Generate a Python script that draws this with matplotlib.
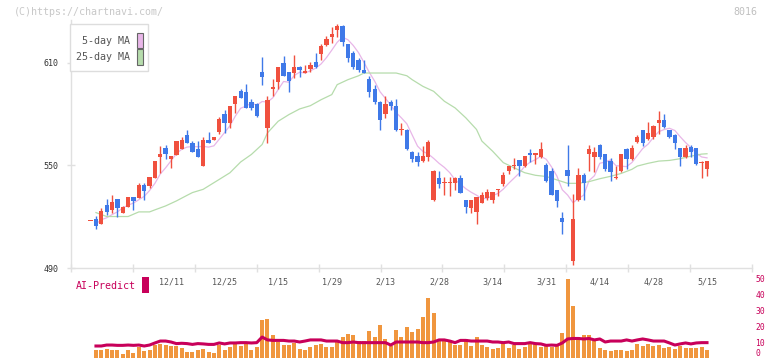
import matplotlib
matplotlib.use('Agg')
import matplotlib.pyplot as plt
import numpy as np
import pandas as pd
from matplotlib.patches import Rectangle
from matplotlib.transforms import blended_transform_factory

# ---------------- data ----------------
opens = [517.2, 518.5, 515.8, 527.1, 523.9, 530.2, 522.4, 525.5, 531.3, 531.0,
         538.3, 538.0, 542.6, 554.7, 559.9, 553.9, 555.8, 559.3, 568.0, 563.2,
         559.7, 549.6, 565.1, 564.8, 569.8, 580.3, 574.9, 585.7, 593.5, 593.1,
         587.3, 586.1, 604.4, 571.7, 594.4, 598.5, 610.0, 604.4, 603.8, 607.7,
         604.2, 606.5, 610.6, 615.4, 620.5, 625.1, 629.4, 631.7, 621.1, 615.8,
         611.6, 605.9, 600.7, 594.8, 587.3, 579.9, 587.3, 585.0, 570.9, 570.9,
         558.1, 555.2, 552.3, 554.9, 529.6, 542.4, 539.9, 539.9, 539.9, 542.4,
         529.6, 524.9, 522.6, 528.0, 530.8, 529.6, 535.4, 539.1, 546.5, 549.4,
         553.0, 549.4, 557.0, 555.8, 554.9, 550.0, 546.5, 535.4, 519.1, 547.1,
         494.3, 529.6, 544.2, 556.6, 554.9, 562.2, 556.4, 552.3, 542.6, 546.5,
         559.3, 553.5, 563.4, 570.4, 565.7, 566.5, 574.5, 576.8, 570.4, 568.0,
         559.9, 554.9, 561.0, 559.9, 551.2, 547.9]
highs = [517.2, 520.5, 525.3, 530.2, 532.5, 530.2, 526.0, 531.5, 531.3, 539.5,
         539.9, 543.0, 552.8, 561.2, 561.7, 555.2, 564.0, 566.7, 570.4, 564.2,
         564.2, 566.7, 569.4, 566.5, 578.3, 582.2, 585.0, 590.8, 594.6, 597.8,
         589.0, 586.5, 613.1, 590.8, 600.5, 607.5, 614.1, 604.6, 614.7, 607.9,
         608.8, 610.6, 615.8, 621.1, 625.7, 631.0, 632.7, 632.0, 621.1, 616.8,
         612.7, 611.8, 602.4, 597.2, 587.5, 590.8, 588.4, 588.8, 574.8, 571.0,
         558.3, 558.1, 561.3, 565.1, 547.1, 546.5, 543.0, 543.0, 543.0, 544.2,
         529.6, 529.8, 531.5, 534.3, 536.0, 534.5, 536.0, 546.3, 549.6, 554.1,
         553.2, 555.4, 559.3, 557.5, 563.4, 551.2, 548.5, 535.5, 522.8, 562.2,
         533.1, 548.3, 545.3, 562.2, 561.0, 562.4, 556.6, 554.1, 549.6, 556.6,
         560.3, 562.2, 568.0, 570.6, 575.2, 573.9, 582.0, 580.3, 570.6, 568.2,
         560.0, 562.2, 562.2, 560.0, 552.3, 552.6]
lows = [517.2, 512.7, 515.8, 521.0, 522.4, 519.9, 522.0, 525.5, 524.0, 531.0,
        529.8, 537.0, 542.6, 545.7, 553.9, 548.6, 555.8, 559.3, 562.8, 557.8,
        554.9, 549.6, 562.8, 564.8, 568.6, 569.0, 572.0, 580.7, 589.6, 583.4,
        582.6, 578.0, 597.2, 562.8, 590.4, 594.4, 602.0, 592.7, 601.3, 601.6,
        603.8, 604.4, 607.0, 611.4, 619.9, 621.5, 625.3, 619.7, 610.2, 606.3,
        604.4, 603.8, 589.8, 586.0, 570.6, 577.6, 582.6, 570.0, 567.5, 559.0,
        551.9, 549.6, 551.9, 552.5, 529.0, 536.6, 532.5, 531.9, 535.6, 533.9,
        522.4, 522.4, 515.8, 527.8, 529.6, 528.0, 532.1, 537.7, 545.1, 547.7,
        543.8, 549.0, 551.9, 550.8, 554.5, 540.5, 532.5, 525.7, 509.8, 538.0,
        491.7, 529.0, 529.6, 546.7, 546.1, 553.5, 546.7, 540.7, 541.9, 546.0,
        547.7, 553.0, 562.8, 561.6, 564.8, 565.7, 568.6, 572.0, 566.0, 559.3,
        549.6, 554.5, 554.9, 550.5, 542.6, 543.8]
closes = [517.2, 514.3, 523.2, 522.8, 528.6, 525.1, 525.9, 531.3, 529.0, 538.3,
          534.9, 543.0, 552.3, 556.4, 556.4, 555.2, 564.0, 565.1, 562.8, 557.8,
          554.9, 565.1, 562.8, 566.5, 577.2, 574.5, 585.0, 590.8, 589.6, 583.4,
          583.4, 578.7, 601.6, 588.0, 596.0, 607.3, 602.4, 599.5, 607.7, 605.5,
          605.0, 608.8, 607.3, 619.9, 624.0, 626.9, 631.7, 622.2, 612.5, 607.3,
          605.5, 603.8, 592.7, 586.9, 576.4, 586.1, 584.6, 570.6, 570.9, 559.3,
          553.5, 551.9, 555.2, 563.4, 546.5, 539.1, 539.9, 539.9, 542.4, 533.9,
          525.7, 529.6, 531.3, 532.5, 534.3, 534.3, 535.4, 544.2, 549.4, 549.4,
          549.4, 555.2, 555.8, 557.0, 559.3, 540.7, 532.7, 529.0, 517.0, 543.8,
          518.5, 544.2, 539.7, 559.3, 558.1, 554.9, 547.7, 546.1, 542.6, 556.4,
          553.5, 559.9, 566.5, 562.8, 569.2, 573.3, 576.8, 572.7, 566.5, 562.8,
          554.9, 559.9, 557.8, 550.8, 551.2, 552.3]

# volume and AI-Predict start at the second candle
volume = [5.0, 5.0, 5.6, 5.0, 5.0, 2.5, 5.0, 3.1, 6.9, 4.4,
          5.0, 8.1, 8.8, 8.1, 7.5, 7.5, 6.3, 3.8, 3.8, 5.0,
          5.6, 3.8, 3.1, 8.1, 5.0, 6.9, 8.8, 7.5, 8.8, 5.0,
          6.9, 23.8, 24.4, 14.4, 10.0, 8.1, 8.1, 9.4, 5.6, 5.0,
          6.9, 8.1, 8.8, 6.9, 6.9, 10.6, 13.1, 15.0, 14.4, 10.6,
          10.6, 16.9, 13.1, 20.6, 11.9, 7.5, 17.5, 13.1, 19.4, 16.3,
          18.1, 25.6, 37.5, 28.1, 10.6, 10.6, 11.3, 8.1, 8.1, 11.9,
          7.5, 13.1, 8.1, 6.9, 5.6, 6.3, 9.4, 6.3, 8.1, 5.6,
          6.9, 8.8, 8.8, 6.9, 8.1, 6.9, 8.1, 15.6, 49.4, 32.5,
          13.1, 14.4, 14.4, 10.6, 6.3, 5.0, 4.4, 5.0, 5.0, 4.4,
          5.0, 8.8, 7.5, 8.8, 7.5, 8.1, 6.3, 6.9, 5.6, 7.5,
          6.3, 6.3, 6.3, 6.9, 5.0]
ai_predict = [7.5, 7.5, 8.1, 8.1, 7.9, 7.9, 8.1, 7.9, 8.1, 7.5,
              8.1, 9.4, 10.6, 10.6, 10.0, 9.0, 9.2, 9.0, 8.5, 9.0,
              8.8, 8.5, 8.5, 9.4, 8.8, 9.4, 9.4, 9.6, 9.6, 9.4,
              9.6, 13.1, 11.3, 11.0, 11.0, 11.0, 10.6, 10.6, 10.0, 10.6,
              11.3, 11.3, 11.3, 10.6, 10.6, 10.6, 9.6, 9.6, 10.0, 9.6,
              9.6, 9.6, 9.6, 9.6, 9.6, 8.1, 10.0, 10.0, 10.0, 10.0,
              10.0, 9.6, 9.6, 10.0, 11.3, 11.3, 10.6, 9.6, 11.0, 11.0,
              10.6, 10.6, 10.6, 10.6, 10.0, 10.0, 9.6, 10.0, 9.0, 9.0,
              9.0, 9.6, 9.0, 8.8, 7.9, 8.1, 7.9, 9.4, 11.9, 12.2,
              12.2, 11.9, 12.2, 11.3, 11.9, 10.0, 10.6, 10.6, 10.6, 11.3,
              10.6, 11.3, 11.9, 11.3, 10.6, 10.6, 10.6, 9.4, 8.1, 8.8,
              9.4, 8.8, 9.4, 9.6, 9.6]

# 25-day moving average, read at candle indices
ma25_idx = [1, 3, 5, 7, 9, 11, 12, 14, 16, 18, 19, 21, 24, 26, 28, 30, 32, 33,
            35, 37, 39, 41, 43, 45, 46, 48, 50, 51, 54, 57, 59, 60, 62, 64, 66,
            68, 70, 72, 73, 75, 77, 79, 81, 83, 85, 87, 89, 91, 93, 95, 97, 99,
            101, 102, 104, 106, 108, 110, 112, 114, 115]
ma25_val = [522.4, 520.1, 520.1, 520.1, 522.8, 522.8, 524.0, 526.3, 529.2, 532.5,
            534.1, 536.0, 541.8, 545.7, 552.0, 556.4, 562.2, 569.0, 575.8, 579.7,
            583.0, 584.9, 588.4, 591.4, 597.2, 600.1, 602.4, 604.0, 604.0, 604.0,
            602.4, 600.1, 596.2, 593.3, 587.5, 583.6, 577.8, 571.0, 564.2, 558.3,
            551.6, 548.6, 545.7, 544.2, 543.5, 541.5, 539.5, 539.5, 540.5, 542.2,
            543.6, 545.3, 547.7, 549.6, 551.2, 552.5, 552.9, 553.9, 555.4, 556.6,
            556.8]

tick_idx = [15, 25, 35, 45, 55, 65, 75, 85, 95, 105, 115]
tick_labels = ['12/11', '12/25', '1/15', '1/29', '2/13', '2/28', '3/14',
               '3/31', '4/14', '4/28', '5/15']
price_ticks = [490, 550, 610]
vol_ticks = [0, 10, 20, 30, 40, 50]

# ---------------- styling ----------------
RED = '#f0503e'
BLUE = '#3f79e8'
PINK = '#e8b6e8'
GREEN = '#b6dcac'
ORANGE = '#f0963e'
MAGENTA = '#c8005a'
GRID = '#e0e0e0'
MONO = 'DejaVu Sans Mono'

W, H = 772, 361
fig = plt.figure(figsize=(W / 100, H / 100), dpi=100)


def rect(l, t, r, b):
    return [l / W, 1 - b / H, (r - l) / W, (b - t) / H]


ax = fig.add_axes(rect(71, 20, 752, 268))
axv = fig.add_axes(rect(71, 278, 752, 358))

x0_px, step_px = 90.6, 5.36
xl = (71 - x0_px) / step_px
xr = (752 - x0_px) / step_px

# --- candles ---
o = np.array(opens)
c = np.array(closes)
hi = np.array(highs)
lo = np.array(lows)
xi = np.arange(len(o))
cols = np.where(c >= o, RED, BLUE)

closes_s = pd.Series(closes)
ma5 = closes_s.rolling(5, min_periods=1).mean()
ax.plot(xi[1:], ma5.values[1:], color=PINK, lw=0.9, zorder=1)
ax.plot(ma25_idx, ma25_val, color=GREEN, lw=0.9, zorder=1)

ax.vlines(xi, lo, hi, colors=cols, lw=1.0, zorder=2)
ax.bar(xi, np.maximum(np.abs(c - o), 0.6), 0.8, bottom=np.minimum(o, c),
       color=cols, linewidth=0, zorder=3)

ax.set_xlim(xl, xr)
ax.set_ylim(490.5, 635.0)
for s in ['top', 'right']:
    ax.spines[s].set_visible(False)
for s in ['left', 'bottom']:
    ax.spines[s].set_color(GRID)
    ax.spines[s].set_linewidth(1.0)
ax.set_xticks(np.linspace(xl, xr, 12))
ax.set_xticklabels([])
ax.tick_params(axis='x', direction='inout', length=6, width=1.0, color=GRID)
ax.set_yticks(price_ticks)
ax.set_yticklabels([str(v) for v in price_ticks], fontsize=6, family=MONO,
                   color='#333333')
ax.tick_params(axis='y', direction='inout', length=6, width=1.0, color=GRID,
               pad=6)

# date labels
tr = blended_transform_factory(ax.transData, fig.transFigure)
for i, lab in zip(tick_idx, tick_labels):
    ax.text(i, 1 - 282 / H, lab, transform=tr, ha='center', va='center',
            fontsize=6, family=MONO, color='#555555', clip_on=False)

# --- volume panel ---
xv = np.arange(1, 1 + len(volume))
axv.bar(xv, volume, 0.75, color=ORANGE, linewidth=0, zorder=1)
axv.plot(xv, ai_predict, color=MAGENTA, lw=2.2, zorder=2,
         solid_joinstyle='round')
axv.set_xlim(xl, xr)
axv.set_ylim(0, 50)
for s in axv.spines.values():
    s.set_visible(False)
axv.set_xticks([])
axv.yaxis.tick_right()
axv.set_yticks(vol_ticks)
axv.set_yticklabels([str(v) for v in vol_ticks], fontsize=5.8, family=MONO,
                    color=MAGENTA)
axv.tick_params(axis='y', length=0, pad=2.5)
# keep the lowest label inside the picture
axv.get_yticklabels()[0].set_va('bottom')
axv.patch.set_alpha(0)

# --- legend box ---
fig.add_artist(Rectangle((70 / W, 1 - 71 / H), 78 / W, 47 / H,
                         transform=fig.transFigure, facecolor='white',
                         edgecolor='#dddddd', lw=1.0, zorder=5))
for lab, col, yc in [('5-day MA', PINK, 40.5), ('25-day MA', GREEN, 57.0)]:
    fig.text(129.5 / W, 1 - yc / H, lab, ha='right', va='center', fontsize=7.2,
             family=MONO, color='#555555', zorder=6)
    fig.add_artist(Rectangle((136.5 / W, 1 - (yc + 7.5) / H), 6 / W, 15 / H,
                             transform=fig.transFigure, facecolor=col,
                             edgecolor='#666666', lw=0.8, zorder=6))

# --- AI-Predict label ---
fig.text(75.5 / W, 1 - 286 / H, 'AI-Predict', ha='left', va='center',
         fontsize=7.2, family=MONO, color=MAGENTA)
fig.add_artist(Rectangle((142 / W, 1 - 293 / H), 7 / W, 16 / H,
                         transform=fig.transFigure, facecolor=MAGENTA,
                         edgecolor='none', zorder=6))

# --- watermark and code ---
fig.text(14 / W, 1 - 12 / H, '(C)https://chartnavi.com/', ha='left',
         va='center', fontsize=7.2, family=MONO, color='#c8c8c8')
fig.text(757 / W, 1 - 12 / H, '8016', ha='right', va='center', fontsize=7.2,
         family=MONO, color='#c0c0c0')

fig.savefig('out.png', dpi=100)
